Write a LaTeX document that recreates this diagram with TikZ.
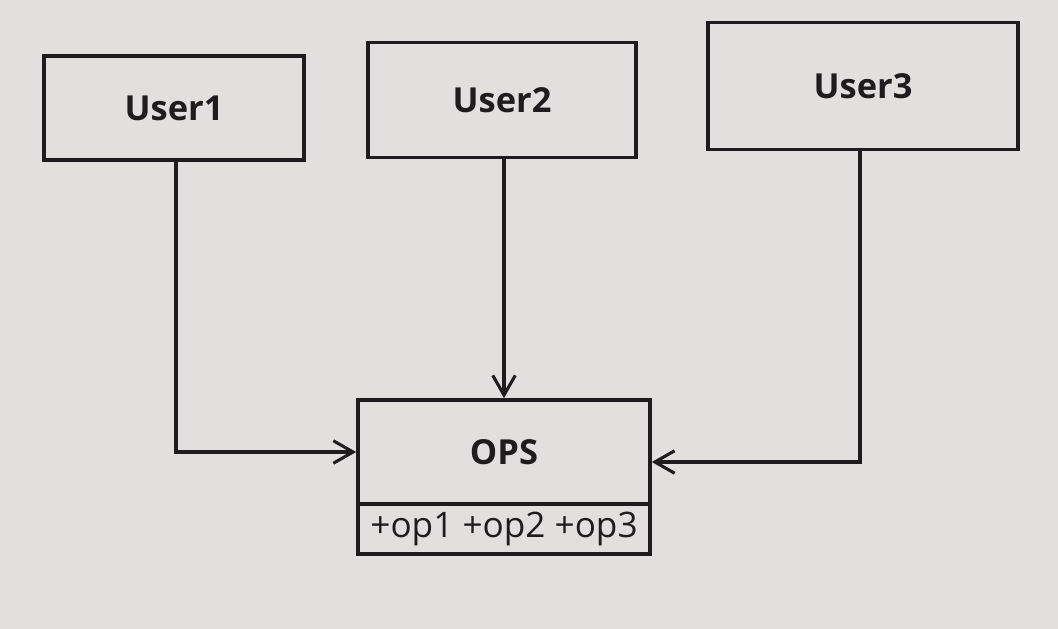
\documentclass[tikz,border=0pt]{standalone}
\usepackage{fontspec}
\setmainfont{Open Sans}
\usetikzlibrary{arrows.meta}
\definecolor{paper}{RGB}{226,224,223}
\definecolor{ink}{RGB}{30,28,30}
\begin{document}
\begin{tikzpicture}[x=0.025cm,y=-0.025cm,
  box/.style={draw=ink,line width=2.6pt,rectangle,inner sep=0pt,text=ink,font=\bfseries\fontsize{24.5}{28}\selectfont},
  opsline/.style={draw=ink,line width=2.6pt,rectangle,inner sep=0pt,text=ink,font=\fontsize{25}{28}\selectfont},
  conn/.style={draw=ink,line width=2.2pt,-{Straight Barb[length=14pt,width=16pt,line width=2.2pt]}}]
\fill[paper] (0,0) rectangle (1058,629);
\useasboundingbox (0,0) rectangle (1058,629);
\node[box,minimum width=260*0.025cm,minimum height=104*0.025cm] (u1) at (174,108) {User1};
\node[box,minimum width=268*0.025cm,minimum height=115*0.025cm] (u2) at (502,100) {User2};
\node[box,minimum width=310*0.025cm,minimum height=127*0.025cm] (u3) at (863,86) {User3};
\node[box,minimum width=292*0.025cm,minimum height=104*0.025cm] (ops) at (504,452) {OPS};
\node[opsline,minimum width=292*0.025cm,minimum height=50*0.025cm,anchor=north,yshift=2.6pt] (opl) at (ops.south) {+op1 +op2 +op3};
\coordinate (c1) at (176,452);
\coordinate (c3) at (860,462);
\draw[conn] (u1.south -| c1) -- (c1) -- (ops.west |- c1);
\draw[conn] (u2.south -| ops.north) -- (ops.north);
\draw[conn] (u3.south -| c3) -- (c3) -- (ops.east |- c3);
\end{tikzpicture}
\end{document}
